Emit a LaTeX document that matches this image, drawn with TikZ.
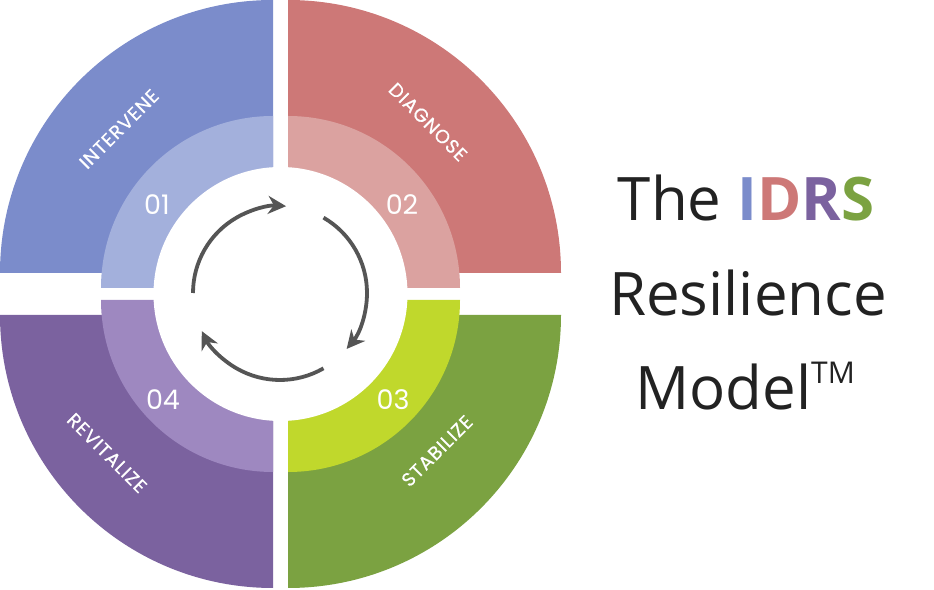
\documentclass[tikz,border=0pt]{standalone}
\usepackage{fontspec}
\setmainfont{Open Sans}
\newfontfamily\lblfont{Poppins}
\newfontfamily\phfont[LetterSpace=5,FakeBold=0.6]{Poppins}
\usetikzlibrary{arrows.meta}
\definecolor{bO}{HTML}{7B8CCB}\definecolor{bI}{HTML}{A3B0DC}
\definecolor{rO}{HTML}{CD7877}\definecolor{rI}{HTML}{DBA2A0}
\definecolor{gO}{HTML}{7BA241}\definecolor{gI}{HTML}{C0D82C}
\definecolor{pO}{HTML}{7B629F}\definecolor{pI}{HTML}{9E88C0}
\definecolor{ink}{HTML}{222222}\definecolor{arr}{HTML}{555555}
\begin{document}
\begin{tikzpicture}[x=1pt,y=1pt,
  num/.style={text=white,font=\lblfont\fontsize{27}{27}\selectfont},
  phase/.style={text=white,font=\phfont\fontsize{19}{19}\selectfont},
  title/.style={text=ink,font=\fontsize{60}{60}\selectfont},
  cyc/.style={arr,line width=3.8pt,-{Stealth[length=18pt,width=18pt]}}]
\useasboundingbox (0,0) rectangle (934,589);
% outer quarters
\fill[bO] (273,316) -- ++(180:273) arc (180:90:273) -- cycle;
\fill[rO] (288,316) -- ++(90:273) arc (90:0:273) -- cycle;
\fill[gO] (288,274) -- ++(0:273) arc (0:-90:273) -- cycle;
\fill[pO] (273,274) -- ++(-90:273) arc (-90:-180:273) -- cycle;
% inner quarters
\fill[bI] (273,301) -- ++(180:172) arc (180:90:172) -- cycle;
\fill[rI] (288,301) -- ++(90:172) arc (90:0:172) -- cycle;
\fill[gI] (288,289) -- ++(0:172) arc (0:-90:172) -- cycle;
\fill[pI] (273,289) -- ++(-90:172) arc (-90:-180:172) -- cycle;
\fill[white] (280.5,295) circle (127);
% cycle arrows
\coordinate (c) at (280,296);
\draw[cyc] ([shift={(180:87)}]c) arc (180:86:87);
\draw[cyc] ([shift={(60:87)}]c) arc (60:-40:87);
\draw[cyc] ([shift={(-60:87)}]c) arc (-60:-154:87);
% labels
\node[num] (n1) at (157,384) {01};
\node[num] (n2) at (402,384) {02};
\node[num] (n3) at (393,189) {03};
\node[num] (n4) at (163,189) {04};
\node[phase,rotate=45] (p1) at (119,460) {INTERVENE};
\node[phase,rotate=-45] (p2) at (428,467) {DIAGNOSE};
\node[phase,rotate=45] (p3) at (437,138) {STABILIZE};
\node[phase,rotate=-45] (p4) at (107,136) {REVITALIZE};
% title
\node[title] (t1) at (746,391) {The \textbf{\textcolor{bO}{I}\textcolor{rO}{D}\textcolor{pO}{R}\textcolor{gO}{S}}};
\node[title] (t2) at (748,296) {Resilience};
\node[title] (t3) at (745,203) {Model\raisebox{0.42em}{\fontsize{30}{30}\selectfont TM}};
\end{tikzpicture}
\end{document}
